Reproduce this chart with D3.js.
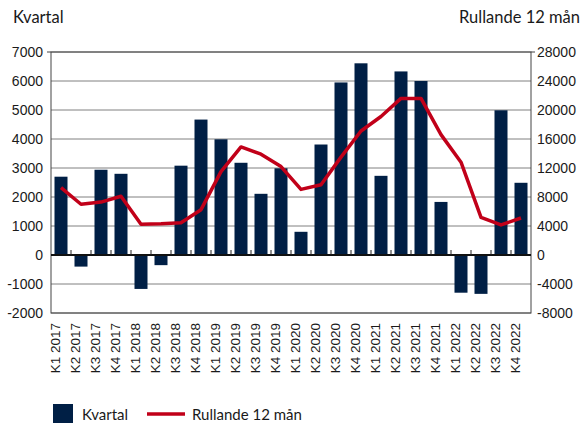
<!DOCTYPE html>
<html>
<head>
<meta charset="utf-8">
<script src="https://cdn.jsdelivr.net/npm/d3@7/dist/d3.min.js"></script>
<style>
  body { margin: 0; background: #fff; }
  svg text { fill: #1a1a1a; }
</style>
</head>
<body>
<svg id="chart" width="583" height="423"></svg>
<script>
// quarters shown on the x axis
var quarters = ["K1 2017","K2 2017","K3 2017","K4 2017",
                "K1 2018","K2 2018","K3 2018","K4 2018",
                "K1 2019","K2 2019","K3 2019","K4 2019",
                "K1 2020","K2 2020","K3 2020","K4 2020",
                "K1 2021","K2 2021","K3 2021","K4 2021",
                "K1 2022","K2 2022","K3 2022","K4 2022"];

// bars, left axis
var kvartal = [2700, -400, 2940, 2800,
               -1170, -350, 3080, 4670,
               3990, 3180, 2110, 2990,
               800, 3810, 5950, 6610,
               2730, 6330, 6000, 1830,
               -1300, -1340, 4990, 2490];

// line, right axis
var rullande = [9300, 7000, 7300, 8100,
                4250, 4300, 4450, 6250,
                11500, 14900, 13900, 12200,
                9050, 9700, 13500, 17100,
                19100, 21600, 21600, 16600,
                12800, 5200, 4150, 5100];

var leftTicks = [-2000,-1000,0,1000,2000,3000,4000,5000,6000,7000];
var rightTicks = [-8000,-4000,0,4000,8000,12000,16000,20000,24000,28000];

var barColor = "#001f45";
var lineColor = "#c10019";
var tickFont = "'Liberation Sans', Arial, sans-serif";
var textFont = "Lato, 'Noto Sans', sans-serif";

var svg = d3.select("#chart");
// plot box (window.top is reserved, so no plain "top")
var pLeft = 51, pRight = 531, pTop = 52, pBottom = 313;

var x = d3.scaleBand().domain(quarters).range([pLeft, pRight])
    .paddingInner(0.35).paddingOuter(0.175);
var yL = d3.scaleLinear().domain([-2000, 7000]).range([pBottom, pTop]);
var yR = d3.scaleLinear().domain([-8000, 28000]).range([pBottom, pTop]);

// grid lines
svg.append("g").selectAll("line").data(leftTicks).enter().append("line")
    .attr("x1", pLeft).attr("x2", pRight)
    .attr("y1", function(d){ return yL(d); })
    .attr("y2", function(d){ return yL(d); })
    .attr("stroke", "#808080").attr("stroke-width", 1);

// frame
svg.append("rect").attr("x", pLeft).attr("y", pTop)
    .attr("width", pRight - pLeft).attr("height", pBottom - pTop)
    .attr("fill", "none").attr("stroke", "#444").attr("stroke-width", 1);

// bars
svg.append("g").selectAll("rect").data(kvartal).enter().append("rect")
    .attr("x", function(d, i){ return x(quarters[i]); })
    .attr("width", x.bandwidth())
    .attr("y", function(d){ return d >= 0 ? yL(d) : yL(0); })
    .attr("height", function(d){ return Math.abs(yL(d) - yL(0)); })
    .attr("fill", barColor);

// zero line with small ticks between categories
svg.append("line").attr("x1", pLeft).attr("x2", pRight)
    .attr("y1", yL(0)).attr("y2", yL(0))
    .attr("stroke", "#111").attr("stroke-width", 2);
svg.append("g").selectAll("line").data(quarters.slice(1)).enter().append("line")
    .attr("x1", function(d){ return x(d) - x.step() * x.paddingInner() / 2; })
    .attr("x2", function(d){ return x(d) - x.step() * x.paddingInner() / 2; })
    .attr("y1", yL(0)).attr("y2", yL(0) - 5)
    .attr("stroke", "#222").attr("stroke-width", 1);

// rolling line
var line = d3.line()
    .x(function(d, i){ return x(quarters[i]) + x.bandwidth() / 2; })
    .y(function(d){ return yR(d); });
svg.append("path").datum(rullande)
    .attr("d", line)
    .attr("fill", "none").attr("stroke", lineColor)
    .attr("stroke-width", 3.5).attr("stroke-linejoin", "round");

// left axis labels
svg.append("g").selectAll("text").data(leftTicks).enter().append("text")
    .attr("x", pLeft - 8).attr("y", function(d){ return yL(d); })
    .attr("dy", "0.36em").attr("text-anchor", "end")
    .style("font-family", tickFont).style("font-size", "14px")
    .text(function(d){ return d; });

// right axis labels
svg.append("g").selectAll("text").data(rightTicks).enter().append("text")
    .attr("x", pRight + 6).attr("y", function(d){ return yR(d); })
    .attr("dy", "0.36em").attr("text-anchor", "start")
    .style("font-family", tickFont).style("font-size", "14px")
    .text(function(d){ return d; });
svg.append("line").attr("x1", pRight).attr("x2", pRight + 4)
    .attr("y1", pTop).attr("y2", pTop).attr("stroke", "#444");
svg.append("line").attr("x1", pLeft - 4).attr("x2", pLeft)
    .attr("y1", pTop).attr("y2", pTop).attr("stroke", "#444");

// x labels, rotated
svg.append("g").selectAll("text").data(quarters).enter().append("text")
    .attr("transform", function(d){
        return "translate(" + (x(d) + x.bandwidth() / 2 - 1) + "," + 323 + ") rotate(-90)";
    })
    .attr("text-anchor", "end")
    .style("font-family", tickFont).style("font-size", "13.5px")
    .text(function(d){ return d; });

// titles
svg.append("text").attr("x", 13).attr("y", 23)
    .style("font-family", textFont).style("font-size", "16.5px")
    .text("Kvartal");
svg.append("text").attr("x", 580).attr("y", 23).attr("text-anchor", "end")
    .style("font-family", textFont).style("font-size", "16.5px")
    .text("Rullande 12 mån");

// legend
svg.append("rect").attr("x", 53).attr("y", 404).attr("width", 20).attr("height", 20)
    .attr("fill", barColor);
svg.append("text").attr("x", 82).attr("y", 420)
    .style("font-family", textFont).style("font-size", "15px")
    .text("Kvartal");
svg.append("line").attr("x1", 147).attr("x2", 185).attr("y1", 414).attr("y2", 414)
    .attr("stroke", lineColor).attr("stroke-width", 3.5);
svg.append("text").attr("x", 192).attr("y", 420)
    .style("font-family", textFont).style("font-size", "15px")
    .text("Rullande 12 mån");
</script>
</body>
</html>
